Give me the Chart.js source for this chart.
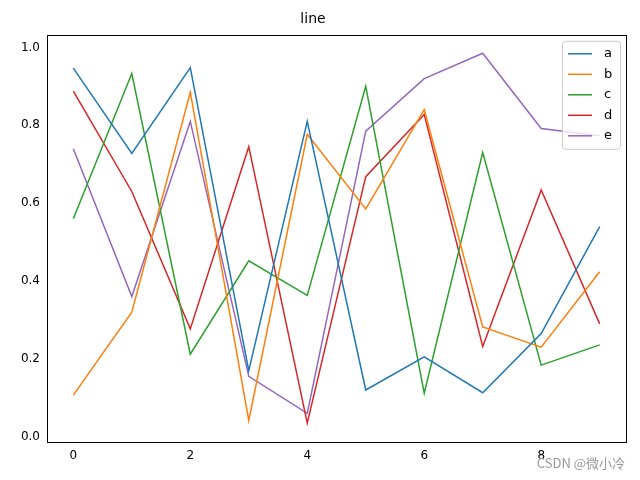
<!DOCTYPE html>
<html>
<head>
<meta charset="utf-8">
<script src="https://cdn.jsdelivr.net/npm/chart.js"></script>
<style>
html,body{margin:0;padding:0;background:#fff;}
#wrap{width:640px;height:480px;position:relative;}
</style>
</head>
<body>
<div id="wrap"><canvas id="c" width="640" height="480"></canvas></div>
<script>
var xs = [0,1,2,3,4,5,6,7,8,9];
var names = ["a","b","c","d","e"];
var colors = ["#1f77b4","#ff7f0e","#2ca02c","#d62728","#9467bd"];
var a = [0.947,0.728,0.948,0.170,0.810,0.120,0.205,0.113,0.265,0.540];
var b = [0.107,0.320,0.885,0.042,0.777,0.585,0.840,0.282,0.230,0.424];
var c = [0.560,0.933,0.212,0.452,0.363,0.900,0.112,0.730,0.184,0.236];
var d = [0.888,0.630,0.277,0.745,0.035,0.668,0.828,0.232,0.634,0.290];
var e = [0.740,0.360,0.810,0.155,0.060,0.785,0.920,0.985,0.792,0.773];
var series = [a,b,c,d,e];
var xTicks = [0,2,4,6,8];
var yTicks = [0.0,0.2,0.4,0.6,0.8,1.0];

var datasets = series.map(function(s,i){
  return {
    label: names[i],
    data: s.map(function(v,j){ return {x: xs[j], y: v}; }),
    borderColor: colors[i],
    backgroundColor: colors[i],
    borderWidth: 1.5,
    pointRadius: 0,
    tension: 0
  };
});

var legendBox = {
  id: "legendBox",
  afterDatasetsDraw: function(chart){
    var ctx = chart.ctx, ca = chart.chartArea;
    var w = 58, h = 108, x = ca.right - w - 6, y = ca.top + 6;
    ctx.save();
    ctx.fillStyle = "rgba(255,255,255,0.8)";
    ctx.strokeStyle = "#cccccc";
    ctx.lineWidth = 1;
    ctx.beginPath();
    ctx.roundRect(x+0.5, y+0.5, w, h, 3);
    ctx.fill(); ctx.stroke();
    ctx.font = "13px 'DejaVu Sans'";
    ctx.textBaseline = "middle";
    for (var i = 0; i < names.length; i++) {
      var yy = y + 13 + i*20.5;
      ctx.strokeStyle = colors[i];
      ctx.lineWidth = 1.5;
      ctx.beginPath(); ctx.moveTo(x+6, yy); ctx.lineTo(x+30, yy); ctx.stroke();
      ctx.fillStyle = "#000";
      ctx.fillText(names[i], x+42, yy);
    }
    ctx.restore();
  }
};

var frame = {
  id: "frame",
  afterDraw: function(chart){
    var ctx = chart.ctx, ca = chart.chartArea;
    ctx.save();
    ctx.strokeStyle = "#000"; ctx.lineWidth = 1;
    ctx.strokeRect(Math.round(ca.left)+0.5, Math.round(ca.top)+0.5,
                   Math.round(ca.right-ca.left), Math.round(ca.bottom-ca.top));
    ctx.fillStyle = "#999"; ctx.font = "13px 'Noto Sans CJK SC'";
    ctx.textAlign = "right"; ctx.textBaseline = "alphabetic";
    ctx.fillText("CSDN @微小冷", 625, 468);
    ctx.restore();
  }
};

new Chart("c", {
  type: "line",
  data: { datasets: datasets },
  options: {
    responsive: false,
    animation: false,
    layout: { padding: { left: 0, right: 14, top: 0, bottom: 14 } },
    plugins: {
      legend: { display: false },
      tooltip: { enabled: false },
      title: { display: true, text: "line", color: "#000",
        font: { family: "DejaVu Sans", size: 14, weight: "normal" }, padding: { top: 11, bottom: 7 } }
    },
    scales: {
      x: {
        type: "linear", min: -0.45, max: 9.45,
        afterBuildTicks: function(s){ s.ticks = xTicks.map(function(v){ return {value: v}; }); },
        grid: { display: false, drawTicks: true, tickLength: 4, tickColor: "#000" },
        border: { display: false },
        ticks: { color: "#000", font: { family: "DejaVu Sans", size: 12 }, padding: 3, maxRotation: 0 }
      },
      y: {
        min: -0.0125, max: 1.0325,
        afterFit: function(s){ s.width = 47; },
        afterBuildTicks: function(s){ s.ticks = yTicks.map(function(v){ return {value: v}; }); },
        grid: { display: false, drawTicks: true, tickLength: 4, tickColor: "#000" },
        border: { display: false },
        ticks: { color: "#000", font: { family: "DejaVu Sans", size: 12 }, padding: 3,
          callback: function(v){ return v.toFixed(1); } }
      }
    }
  },
  plugins: [legendBox, frame]
});
</script>
</body>
</html>
